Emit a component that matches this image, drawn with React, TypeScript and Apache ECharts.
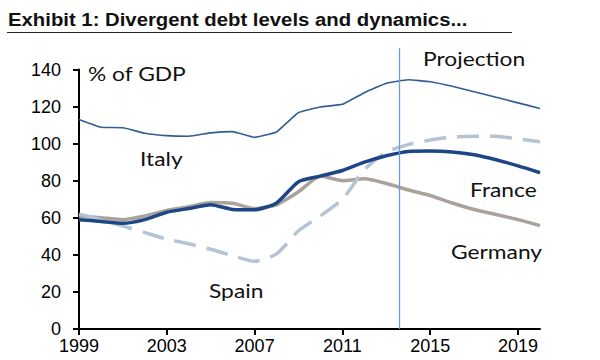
import React, { useEffect, useRef } from "react";
import * as echarts from "echarts";

const years = [1999, 2000, 2001, 2002, 2003, 2004, 2005, 2006, 2007, 2008, 2009, 2010, 2011, 2012, 2013, 2014, 2015, 2016, 2017, 2018, 2019, 2020];
const italy = [113, 108.8, 108.6, 105.6, 104.3, 104, 105.8, 106.5, 103.4, 106.3, 116.8, 119.8, 121.2, 127.5, 132.6, 134.5, 133.4, 131, 128, 125, 122, 119];
const france = [59, 58, 57, 59, 63, 65, 67, 64.5, 64.3, 68, 79.5, 82.5, 85.5, 90, 93.5, 95.8, 96, 95.5, 94, 91.3, 88, 84.3];
const germany = [61, 60, 59, 61, 64, 66, 68.2, 67.8, 65, 67, 74, 82.5, 80, 81, 78.5, 75, 72, 68, 64.5, 61.8, 59, 55.8];
const spain = [62, 59, 55.5, 52, 48.5, 46, 43, 39.5, 36.5, 40.5, 53, 61, 70, 86, 95.5, 99.5, 102, 103.5, 104, 104, 102.5, 101];
const xTicks = [1999, 2003, 2007, 2011, 2015, 2019];
const projectionYear = 2013.6;
const projectionTop = 151.5;

const pairs = (vals: number[]) => years.map((y, i) => [y, vals[i]]);

export default function App() {
  const ref = useRef<HTMLDivElement>(null);
  useEffect(() => {
    const chart = echarts.init(ref.current!, null, { renderer: "svg" });
    const labelFont = "Lato, 'Open Sans', sans-serif";
    chart.setOption({
      animation: false,
      grid: { left: 79, right: 60, top: 69.5, bottom: 31 },
      xAxis: {
        type: "value",
        min: 1999,
        max: 2020,
        interval: 4,
        splitLine: { show: false },
        axisLine: { lineStyle: { color: "#000", width: 2 } },
        axisTick: { show: true, length: 6, lineStyle: { color: "#000", width: 2 }, customValues: xTicks },
        axisLabel: {
          customValues: xTicks,
          formatter: (v: number) => String(v),
          color: "#000",
          fontFamily: "'Liberation Sans', Arial, sans-serif",
          fontSize: 18,
          margin: 8,
        },
      },
      yAxis: {
        type: "value",
        min: 0,
        max: 140,
        interval: 20,
        splitLine: { show: false },
        axisLine: { show: true, lineStyle: { color: "#000", width: 2 } },
        axisTick: { show: true, length: 6, lineStyle: { color: "#000", width: 2 } },
        axisLabel: {
          color: "#000",
          fontFamily: "'Liberation Sans', Arial, sans-serif",
          fontSize: 18,
          margin: 18,
        },
      },
      series: [
        {
          name: "Germany",
          type: "line",
          data: pairs(germany),
          showSymbol: false,
          smooth: 0.2,
          lineStyle: { color: "#aaa39c", width: 3.5 },
        },
        {
          name: "Spain",
          type: "line",
          data: pairs(spain),
          showSymbol: false,
          smooth: 0.2,
          lineStyle: { color: "#b5c4d4", width: 3.5, type: [22, 11] },
        },
        {
          name: "France",
          type: "line",
          data: pairs(france),
          showSymbol: false,
          smooth: 0.2,
          lineStyle: { color: "#1d4687", width: 3.5 },
        },
        {
          name: "Italy",
          type: "line",
          data: pairs(italy),
          showSymbol: false,
          smooth: 0.1,
          lineStyle: { color: "#2f5f95", width: 1.6 },
        },
      ],
    });
    const [px, py0] = chart.convertToPixel({ gridIndex: 0 }, [projectionYear, 0]) as number[];
    const [, py1] = chart.convertToPixel({ gridIndex: 0 }, [projectionYear, projectionTop]) as number[];
    const txt = (text: string, x: number, y: number) => ({
      type: "text",
      x,
      y,
      scaleX: 1.2,
      style: { text, fill: "#111", font: `19px ${labelFont}`, textVerticalAlign: "middle" },
    });
    chart.setOption({
      graphic: [
        {
          type: "text",
          x: 8,
          y: 19,
          scaleX: 1.07,
          style: {
            text: "Exhibit 1: Divergent debt levels and dynamics...",
            fill: "#111",
            font: "bold 19px 'Liberation Sans', Arial, sans-serif",
            textVerticalAlign: "middle",
          },
        },
        { type: "line", shape: { x1: 7, y1: 32.5, x2: 512, y2: 32.5 }, style: { stroke: "#222", lineWidth: 1 } },
        {
          type: "line",
          shape: { x1: px, y1: py0, x2: px, y2: py1 },
          style: { stroke: "#6a9ae0", lineWidth: 1.3 },
          z: 10,
        },
        txt("% of GDP", 88, 73),
        txt("Italy", 140, 158),
        txt("Projection", 423, 58),
        txt("France", 470, 189),
        txt("Germany", 451, 251),
        txt("Spain", 209, 290),
      ],
    });
    return () => chart.dispose();
  }, []);
  return <div ref={ref} style={{ width: 600, height: 360, position: "absolute", left: 0, top: 0 }} />;
}
